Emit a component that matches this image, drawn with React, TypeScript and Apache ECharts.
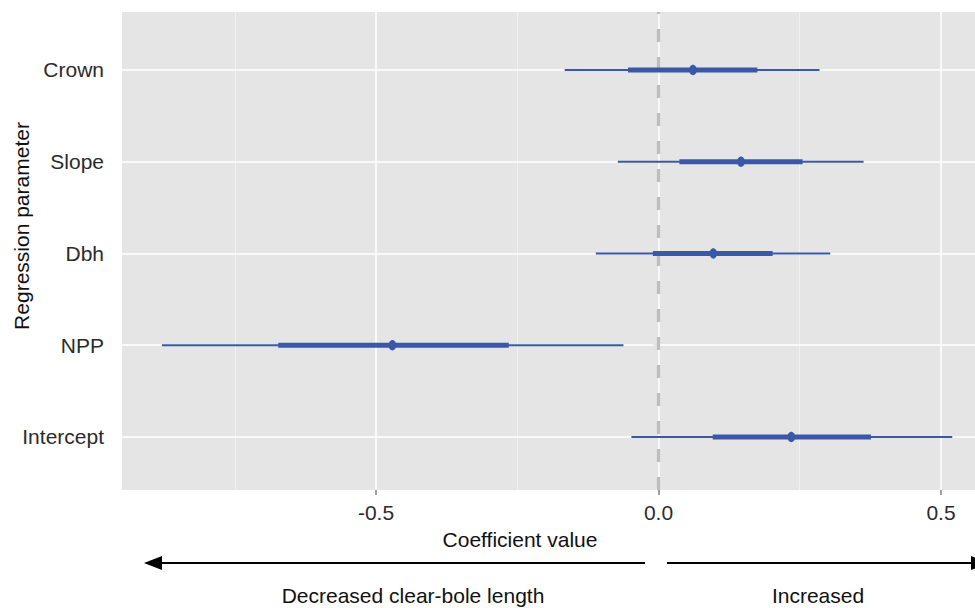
import React, { useEffect, useRef } from "react";
import * as echarts from "echarts";

// Data (bottom to top, y positions 1..5)
const params = ["Intercept", "NPP", "Dbh", "Slope", "Crown"];
const meanVal = [0.235, -0.471, 0.097, 0.146, 0.061];
const lo50 = [0.096, -0.673, -0.01, 0.037, -0.054];
const hi50 = [0.376, -0.265, 0.202, 0.255, 0.175];
const lo95 = [-0.048, -0.879, -0.111, -0.072, -0.166];
const hi95 = [0.52, -0.062, 0.304, 0.363, 0.285];
const xTicks = [-0.5, 0, 0.5];
const xMinorGrid = [-0.75, -0.25, 0.25];
const xMajorGrid = [-0.5, 0, 0.5];
const yTicks = [1, 2, 3, 4, 5];

const FONT = "'Liberation Sans', Arial, Helvetica, sans-serif";
const BLUE = "#3b58a8";
const FS = 21;

export default function App() {
  const ref = useRef<HTMLDivElement>(null);
  useEffect(() => {
    if (!ref.current) return;
    const chart = echarts.init(ref.current, undefined, { renderer: "svg" });
    const data = params.map((_, i) => [i + 1, lo95[i], hi95[i], lo50[i], hi50[i], meanVal[i]]);
    const option: any = {
      animation: false,
      textStyle: { fontFamily: FONT },
      grid: {
        left: 122,
        top: 12,
        width: 853,
        height: 478,
        show: true,
        backgroundColor: "#e5e5e5",
        borderWidth: 0,
      },
      xAxis: {
        type: "value",
        min: -0.9496,
        max: 0.5602,
        axisLine: { show: false },
        splitLine: { show: false },
        axisTick: {
          show: true,
          customValues: xTicks,
          length: 5,
          lineStyle: { color: "#7f7f7f", width: 1.5 },
        },
        axisLabel: {
          customValues: xTicks,
          formatter: (v: number) => v.toFixed(1),
          color: "#2b2b2b",
          fontSize: FS,
          fontFamily: FONT,
          margin: 12,
        },
      },
      yAxis: {
        type: "value",
        min: 0.422,
        max: 5.632,
        axisLine: { show: false },
        splitLine: { show: false },
        axisTick: {
          show: true,
          customValues: yTicks,
          length: 5,
          lineStyle: { color: "#7f7f7f", width: 1.5 },
        },
        axisLabel: {
          customValues: yTicks,
          formatter: (v: number) => params[Math.round(v) - 1] ?? "",
          color: "#2b2b2b",
          fontSize: FS,
          fontFamily: FONT,
          margin: 18,
        },
      },
      series: [
        {
          type: "line",
          data: [],
          z: 1,
          silent: true,
          markLine: {
            silent: true,
            symbol: ["none", "none"],
            label: { show: false },
            data: [
              ...xMinorGrid.map((v) => ({ xAxis: v, lineStyle: { color: "#f2f2f2", width: 0.9, type: "solid" } })),
              ...xMajorGrid.map((v) => ({ xAxis: v, lineStyle: { color: "#ffffff", width: 1.5, type: "solid" } })),
              ...yTicks.map((v) => ({ yAxis: v, lineStyle: { color: "#ffffff", width: 1.5, type: "solid" } })),
              { xAxis: 0, lineStyle: { color: "#bdbdbd", width: 3.2, type: [13, 15] } },
            ],
          },
        },
        {
          type: "custom",
          z: 5,
          data,
          encode: { y: 0, x: [1, 2] },
          renderItem: (_p: any, api: any) => {
            const y = api.value(0);
            const a = api.coord([api.value(1), y]);
            const b = api.coord([api.value(2), y]);
            const c = api.coord([api.value(3), y]);
            const d = api.coord([api.value(4), y]);
            const m = api.coord([api.value(5), y]);
            return {
              type: "group",
              children: [
                {
                  type: "line",
                  shape: { x1: a[0], y1: a[1], x2: b[0], y2: b[1] },
                  style: { stroke: BLUE, lineWidth: 2 },
                },
                {
                  type: "line",
                  shape: { x1: c[0], y1: c[1], x2: d[0], y2: d[1] },
                  style: { stroke: BLUE, lineWidth: 5 },
                },
                {
                  type: "ellipse",
                  shape: { cx: m[0], cy: m[1], rx: 3.8, ry: 5.2 },
                  style: { fill: BLUE },
                },
              ],
            };
          },
        },
      ],
      graphic: [
        {
          type: "text",
          x: 21,
          y: 226,
          rotation: Math.PI / 2,
          style: {
            text: "Regression parameter",
            fontSize: FS,
            fontFamily: FONT,
            fill: "#111111",
            align: "center",
            verticalAlign: "middle",
          },
        },
        {
          type: "text",
          x: 520,
          y: 539,
          style: {
            text: "Coefficient value",
            fontSize: FS,
            fontFamily: FONT,
            fill: "#111111",
            align: "center",
            verticalAlign: "middle",
          },
        },
        {
          type: "line",
          shape: { x1: 160, y1: 563, x2: 645, y2: 563 },
          style: { stroke: "#000", lineWidth: 2 },
        },
        {
          type: "polygon",
          shape: { points: [[144, 563], [162, 556], [162, 570]] },
          style: { fill: "#000" },
        },
        {
          type: "line",
          shape: { x1: 667, y1: 563, x2: 972, y2: 563 },
          style: { stroke: "#000", lineWidth: 2 },
        },
        {
          type: "polygon",
          shape: { points: [[989, 563], [971, 556], [971, 570]] },
          style: { fill: "#000" },
        },
        {
          type: "text",
          x: 413,
          y: 595,
          style: {
            text: "Decreased clear-bole length",
            fontSize: FS,
            fontFamily: FONT,
            fill: "#111111",
            align: "center",
            verticalAlign: "middle",
          },
        },
        {
          type: "text",
          x: 818,
          y: 595,
          style: {
            text: "Increased",
            fontSize: FS,
            fontFamily: FONT,
            fill: "#111111",
            align: "center",
            verticalAlign: "middle",
          },
        },
      ],
    };
    chart.setOption(option);
    return () => chart.dispose();
  }, []);
  return (
    <div
      ref={ref}
      style={{ position: "absolute", left: 0, top: 0, width: 975, height: 608 }}
    />
  );
}
